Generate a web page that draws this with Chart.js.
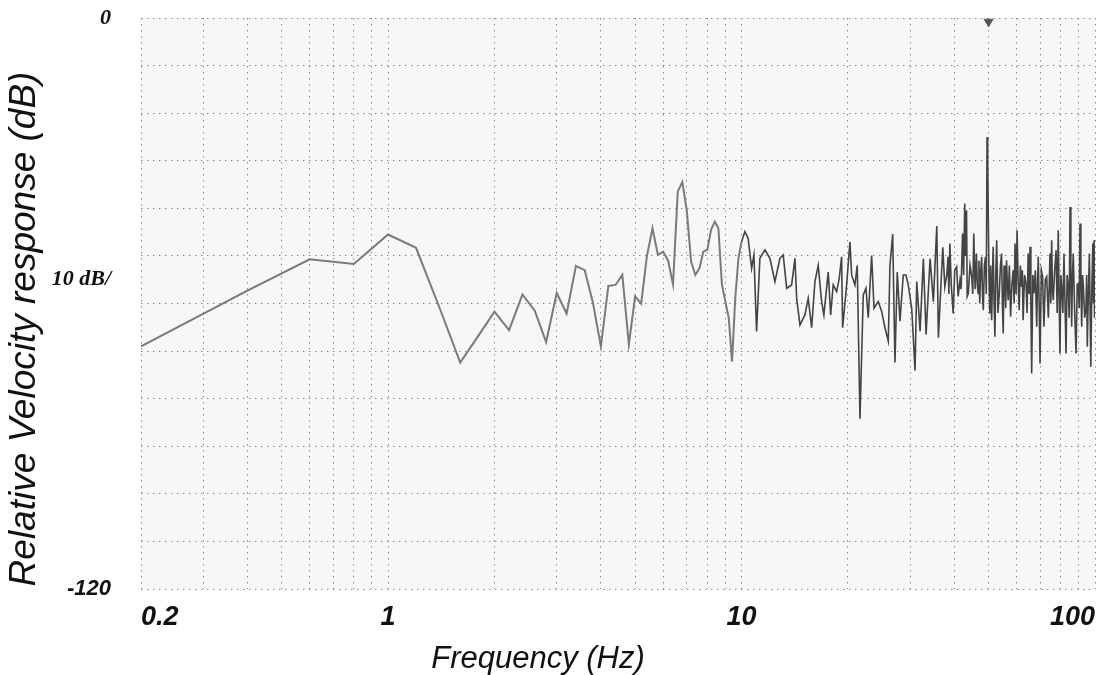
<!DOCTYPE html>
<html>
<head>
<meta charset="utf-8">
<script src="https://cdn.jsdelivr.net/npm/chart.js@4.4.1/dist/chart.umd.min.js"></script>
<style>
  html, body { margin: 0; padding: 0; background: #ffffff; }
  #wrap { width: 1103px; height: 675px; position: relative; }
</style>
</head>
<body>
<div id="wrap"><canvas id="spectrum" width="1103" height="675"></canvas></div>
<script>
// Frequency (Hz) and relative velocity (dB), in pieces
const lowFreqHz = [0.2, 0.4, 0.6, 0.8, 1.0, 1.2, 1.4, 1.6, 1.8, 2.0,
    2.2, 2.4, 2.6, 2.8, 3.0, 3.2, 3.4, 3.6, 3.8, 4.0,
    4.2, 4.4, 4.6, 4.8, 5.0, 5.2, 5.4, 5.6, 5.8, 6.0,
    6.2, 6.4, 6.6, 6.8, 7.0, 7.2, 7.4, 7.6, 7.8, 8.0,
    8.2, 8.4, 8.6, 8.8, 9.0, 9.2, 9.4, 9.6, 9.8, 10.0];
const lowDb = [-69.0, -57.3, -50.7, -51.7, -45.5, -48.3, -61.0, -72.4, -66.8, -61.7,
    -65.6, -58.1, -61.5, -68.1, -57.8, -62.1, -52.1, -53.0, -59.9, -69.0,
    -56.3, -56.1, -54.0, -68.6, -58.5, -60.0, -50.0, -44.2, -49.8, -49.1,
    -51.0, -56.0, -36.5, -34.5, -40.5, -51.2, -54.0, -52.6, -49.1, -48.7,
    -44.5, -42.8, -44.2, -56.0, -59.6, -63.0, -72.2, -58.9, -50.5, -47.0];

const midFreqHz = [10.22, 10.44, 10.68, 10.84, 11.03, 11.27, 11.65, 12.03, 12.43, 12.84,
    13.12, 13.42, 13.86, 14.16, 14.32, 14.63, 15.11, 15.44, 15.79, 16.13,
    16.48, 16.85, 17.1, 17.59, 17.87, 18.17, 18.58, 18.9, 19.19, 19.32,
    19.83, 20.26, 20.49, 20.93, 21.25, 21.63, 22.1, 22.49, 22.83, 23.34,
    23.7, 24.37, 24.92, 25.46, 26.01, 26.3, 26.77, 27.17, 27.58, 28.07,
    28.68, 29.19, 29.63, 30.3, 30.97, 31.31, 32.0, 32.69, 33.27, 34.15,
    34.89, 35.68, 36.05, 37.1, 37.6, 38.09];
const midDb = [-44.9, -46.3, -52.6, -49.8, -65.9, -50.5, -48.7, -50.5, -55.4, -50.5,
    -49.8, -56.8, -56.1, -50.5, -58.9, -64.5, -62.4, -58.9, -65.1, -55.4,
    -52.0, -59.6, -62.4, -53.4, -62.4, -56.1, -57.5, -54.7, -50.2, -65.1,
    -56.1, -47.1, -54.0, -56.1, -52.0, -84.2, -58.2, -56.8, -63.0, -49.9,
    -61.0, -59.6, -61.7, -65.1, -67.9, -52.0, -45.4, -72.4, -53.4, -63.7,
    -54.0, -54.0, -56.1, -61.0, -74.1, -55.4, -65.8, -50.6, -66.5, -50.6,
    -59.6, -43.7, -67.2, -48.2, -56.5, -54.0];

const highFreqHz = [38.4, 38.6, 38.85, 39.2, 39.7, 40.1, 40.6, 41.0, 41.5, 41.8,
    42.2, 42.5, 42.8, 43.0, 43.3, 43.5, 43.8, 44.3, 44.8, 45.1,
    45.4, 45.8, 46.2, 46.45, 46.7, 46.95, 47.2, 47.5, 47.8, 48.05,
    48.3, 48.65, 49.0, 49.25, 49.5, 49.7, 49.9, 50.15, 50.4, 50.7,
    51.0, 51.25, 51.5, 51.8, 52.1, 52.4, 52.7, 53.15, 53.6, 54.0,
    54.4, 54.7, 55.0, 55.3, 55.6, 55.9, 56.2, 56.5, 56.8, 57.25,
    57.7, 58.2, 58.7, 59.05, 59.4, 59.8];
const highDb = [-50.2, -58.0, -47.4, -56.0, -62.1, -53.0, -52.3, -58.5, -55.1, -57.0,
    -45.3, -54.0, -39.0, -50.0, -40.4, -58.5, -57.9, -52.0, -54.4, -58.0,
    -45.3, -57.0, -49.5, -56.0, -57.9, -51.0, -60.0, -53.0, -50.2, -58.0,
    -61.4, -52.0, -50.2, -58.0, -25.0, -30.0, -42.0, -55.0, -62.1, -52.0,
    -63.5, -56.0, -48.1, -59.0, -67.0, -54.0, -46.7, -62.0, -57.9, -52.0,
    -49.5, -60.0, -66.3, -52.0, -55.1, -61.0, -50.9, -56.0, -59.3, -52.0,
    -62.8, -56.0, -53.0, -60.0, -47.4, -58.0];

const topFreqHz = [60.2, 60.6, 61.0, 61.5, 62.0, 62.3, 62.6, 63.2, 63.8, 64.25,
    64.7, 65.1, 65.5, 65.85, 66.2, 66.7, 67.2, 67.8, 68.4, 68.75,
    69.1, 69.5, 69.9, 70.5, 71.1, 71.4, 71.7, 72.35, 73.0, 73.8,
    74.6, 75.0, 75.4, 75.8, 76.2, 76.9, 77.6, 78.15, 78.7, 79.15,
    79.6, 80.05, 80.5, 81.1, 81.7, 82.25, 82.8, 83.4, 84.0, 84.5,
    85.0, 85.45, 85.9, 86.35, 86.8, 87.6, 88.4, 89.05, 89.7, 90.2,
    90.7, 91.2, 91.7, 92.2, 92.7, 93.5, 94.3, 94.7, 95.1, 95.75,
    96.4, 96.85, 97.3, 97.95, 98.6, 99.0, 99.4, 99.7, 100.0];
const topDb = [-44.6, -55.0, -61.4, -52.0, -56.5, -53.0, -63.5, -54.0, -55.8, -62.0,
    -49.5, -58.0, -48.1, -60.0, -74.7, -54.0, -57.9, -53.0, -64.9, -56.0,
    -50.2, -60.0, -72.6, -53.0, -54.4, -60.0, -64.9, -55.0, -54.4, -63.0,
    -49.5, -60.0, -46.7, -57.0, -59.3, -53.0, -48.8, -62.0, -44.6, -58.0,
    -70.5, -54.0, -56.5, -62.0, -49.5, -60.0, -70.5, -54.0, -56.5, -63.0,
    -39.7, -55.0, -64.9, -54.0, -49.5, -62.0, -70.5, -56.0, -55.8, -61.0,
    -43.2, -56.0, -64.9, -54.0, -56.5, -63.0, -60.7, -54.0, -69.1, -58.0,
    -49.5, -61.0, -73.3, -57.0, -47.4, -60.0, -46.7, -63.0, -57.9];

// marker triangle at the top of the plot
const markerHz = [50];
const markerDb = [-0.8];

// grid / tick positions
const xGridHz = [0.2, 0.3, 0.4, 0.5, 0.6, 0.7, 0.8, 0.9,
    1, 2, 3, 4, 5, 6, 7, 8, 9,
    10, 20, 30, 40, 50, 60, 70, 80, 90, 100];
const xLabelHz = [0.2, 1, 10, 100];
const yGridDb = [0, -10, -20, -30, -40, -50, -60, -70, -80, -90, -100, -110, -120];
const yScaleNoteDb = -55;   // where "10 dB/" sits

const freqHz = lowFreqHz.concat(midFreqHz, highFreqHz, topFreqHz);
const velDb = lowDb.concat(midDb, highDb, topDb);
const points = freqHz.map((f, i) => ({x: f, y: velDb[i]}));

const plotBg = {
    id: 'plotBg',
    beforeDraw(chart) {
        const {ctx, chartArea: a} = chart;
        ctx.save();
        ctx.fillStyle = '#f7f7f7';
        ctx.fillRect(a.left, a.top, a.right - a.left, a.bottom - a.top);
        ctx.restore();
    }
};

// both axis titles sit off-centre in the original, so they are drawn here
const axisTitles = {
    id: 'axisTitles',
    afterDraw(chart) {
        const ctx = chart.ctx;
        ctx.save();
        ctx.fillStyle = '#111';
        ctx.textAlign = 'center';
        ctx.textBaseline = 'middle';
        ctx.font = 'italic 31px "Liberation Sans", Arial, sans-serif';
        ctx.fillText('Frequency (Hz)', 538, 659);
        ctx.translate(25, 329);
        ctx.rotate(-Math.PI / 2);
        ctx.font = 'italic 37px "Liberation Sans", Arial, sans-serif';
        ctx.fillText('Relative Velocity response (dB)', 0, 0);
        ctx.restore();
    }
};

const ctx = document.getElementById('spectrum').getContext('2d');
const chart = new Chart(ctx, {
    type: 'line',
    data: {
        datasets: [{
            data: points,
            borderColor: '#555',
            borderWidth: 1.7,
            pointRadius: 0,
            tension: 0,
            segment: {
                borderColor: c => c.p0.parsed.x < 10 ? '#7a7a7a' : '#444444',
                borderWidth: c => c.p0.parsed.x < 10 ? 2 : 1.6
            }
        }, {
            type: 'scatter',
            data: markerHz.map((f, i) => ({x: f, y: markerDb[i]})),
            pointStyle: 'triangle',
            rotation: 180,
            radius: 5,
            backgroundColor: '#555',
            borderColor: '#555',
            clip: false
        }]
    },
    options: {
        responsive: false,
        animation: false,
        devicePixelRatio: 1,
        layout: {padding: {top: 18, right: 8, left: 0, bottom: 0}},
        plugins: {legend: {display: false}, tooltip: {enabled: false}},
        scales: {
            x: {
                type: 'logarithmic',
                min: 0.2,
                max: 100,
                afterBuildTicks: s => { s.ticks = xGridHz.map(v => ({value: v})); },
                afterFit: s => {
                    s.height = 86;
                    s.paddingLeft = 0;
                    s.paddingRight = 0;
                },
                ticks: {
                    autoSkip: false,
                    maxRotation: 0,
                    align: 'inner',
                    padding: 12,
                    color: '#111',
                    font: {family: '"Liberation Sans", Arial, sans-serif', size: 27, style: 'italic', weight: 'bold'},
                    callback: v => xLabelHz.includes(v) ? String(v) : ''
                },
                grid: {color: '#8a8a8a', lineWidth: 1, drawTicks: false},
                border: {display: false, dash: [1.5, 4.5]}
            },
            y: {
                min: -120,
                max: 0,
                afterBuildTicks: s => {
                    s.ticks = yGridDb.concat([yScaleNoteDb]).map(v => ({value: v}));
                },
                afterFit: s => {
                    s.width = 141;
                    s.paddingTop = 0;
                    s.paddingBottom = 0;
                },
                ticks: {
                    autoSkip: false,
                    padding: 30,
                    color: '#111',
                    font: c => {
                        const v = c.tick ? c.tick.value : 0;
                        if (v === -120) {
                            return {family: '"Liberation Sans", Arial, sans-serif', size: 22, style: 'italic', weight: 'bold'};
                        }
                        return {family: '"Liberation Serif", "Times New Roman", serif', size: 22, style: 'italic', weight: 'bold'};
                    },
                    callback: v => {
                        if (v === 0) return '0';
                        if (v === -120) return '-120';
                        if (v === yScaleNoteDb) return '10 dB/';
                        return '';
                    }
                },
                grid: {
                    color: c => (c.tick && c.tick.value === yScaleNoteDb) ? 'rgba(0,0,0,0)' : '#8a8a8a',
                    lineWidth: 1,
                    drawTicks: false
                },
                border: {display: false, dash: [1.5, 4.5]}
            }
        }
    },
    plugins: [plotBg, axisTitles]
});
</script>
</body>
</html>
